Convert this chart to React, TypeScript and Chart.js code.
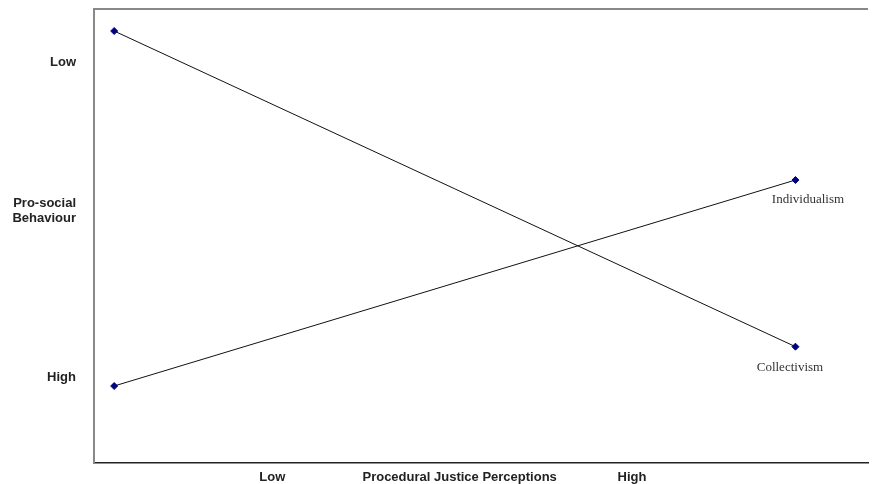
import React, { useEffect, useRef } from "react";
import { Chart, registerables } from "chart.js";

Chart.register(...registerables);

// Data
const perceptionLevels = [1, 2]; // Low, High procedural justice
const seriesNames = ["Collectivism", "Individualism"];
const collectivism = [95.15, 25.62];
const individualism = [16.96, 62.33];

// Axis tick labels
const yTickValues = [88.2, 55.45, 18.8];
const yTickLabels: (string | string[])[] = ["Low", ["Pro-social", "Behaviour"], "High"];
const xTickValues = [1.2322, 1.5071, 1.7601];
const xTickLabels = ["Low", "Procedural Justice Perceptions", "High"];

// label offsets relative to last point (style)
const labelOffsets = [
  { dx: -5.5, dy: 20.5 },
  { dx: 12.5, dy: 19.5 },
];

const seriesLabelPlugin = {
  id: "seriesLabels",
  afterDatasetsDraw(chart: any) {
    const ctx = chart.ctx;
    ctx.save();
    ctx.font = "13px 'Liberation Serif', 'Times New Roman', serif";
    ctx.fillStyle = "#333";
    ctx.textAlign = "center";
    ctx.textBaseline = "middle";
    chart.data.datasets.forEach((ds: any, i: number) => {
      const meta = chart.getDatasetMeta(i);
      const pt = meta.data[meta.data.length - 1];
      if (!pt) return;
      const off = labelOffsets[i];
      ctx.fillText(ds.label, pt.x + off.dx, pt.y + off.dy);
    });
    ctx.restore();
  },
};

const topBorderPlugin = {
  id: "topBorder",
  afterDraw(chart: any) {
    const { ctx, chartArea } = chart;
    ctx.save();
    ctx.strokeStyle = "#888";
    ctx.lineWidth = 2;
    ctx.beginPath();
    ctx.moveTo(chartArea.left - 1, chartArea.top);
    ctx.lineTo(chartArea.right, chartArea.top);
    ctx.stroke();
    ctx.restore();
  },
};

const zeroPad = (scale: any) => {
  scale.paddingTop = 0;
  scale.paddingBottom = 0;
  scale.paddingLeft = 0;
  scale.paddingRight = 0;
};

export default function App() {
  const ref = useRef<HTMLCanvasElement>(null);
  useEffect(() => {
    if (!ref.current) return;
    const mk = (vals: number[]) => perceptionLevels.map((x, i) => ({ x, y: vals[i] }));
    const chart = new Chart(ref.current, {
      type: "line",
      data: {
        datasets: [
          {
            label: seriesNames[0],
            data: mk(collectivism),
            borderColor: "#111",
            borderWidth: 1,
            pointStyle: "rectRot",
            pointRadius: 3.5,
            pointBackgroundColor: "#000080",
            pointBorderColor: "#000080",
            pointBorderWidth: 1,
          },
          {
            label: seriesNames[1],
            data: mk(individualism),
            borderColor: "#111",
            borderWidth: 1,
            pointStyle: "rectRot",
            pointRadius: 3.5,
            pointBackgroundColor: "#000080",
            pointBorderColor: "#000080",
            pointBorderWidth: 1,
          },
        ],
      },
      options: {
        responsive: false,
        animation: false,
        events: [],
        layout: { padding: { top: 9, left: 0, right: 0, bottom: 0 } },
        plugins: {
          legend: { display: false },
          tooltip: { enabled: false },
        },
        scales: {
          x: {
            type: "linear",
            min: 0.9704,
            max: 2.1065,
            afterBuildTicks: (scale: any) => {
              scale.ticks = xTickValues.map((v) => ({ value: v }));
            },
            afterFit: (scale: any) => {
              scale.height = 21;
              zeroPad(scale);
            },
            grid: { display: false, drawTicks: false },
            border: { display: true, color: "#222", width: 1.5 },
            ticks: {
              autoSkip: false,
              maxRotation: 0,
              padding: 6.5,
              color: "#222",
              font: { family: "'Liberation Sans', Arial, sans-serif", size: 13, weight: "bold", lineHeight: 1.2 },
              callback: (_v: any, i: number) => xTickLabels[i],
            },
          },
          y: {
            type: "linear",
            min: 0,
            max: 100,
            afterBuildTicks: (scale: any) => {
              scale.ticks = yTickValues.map((v) => ({ value: v }));
            },
            afterFit: (scale: any) => {
              scale.width = 94;
              zeroPad(scale);
            },
            grid: { display: false, drawTicks: false },
            border: { display: true, color: "#888", width: 2 },
            ticks: {
              autoSkip: false,
              padding: 18,
              color: "#222",
              font: { family: "'Liberation Sans', Arial, sans-serif", size: 13, weight: "bold", lineHeight: 1.15 },
              callback: (_v: any, i: number) => yTickLabels[i],
            },
          },
        },
      },
      plugins: [seriesLabelPlugin, topBorderPlugin],
    } as any);
    return () => chart.destroy();
  }, []);
  return (
    <div style={{ position: "absolute", left: 0, top: 0, width: 873, height: 484, background: "#fff" }}>
      <canvas ref={ref} width={873} height={484} style={{ width: 873, height: 484, display: "block" }} />
    </div>
  );
}
